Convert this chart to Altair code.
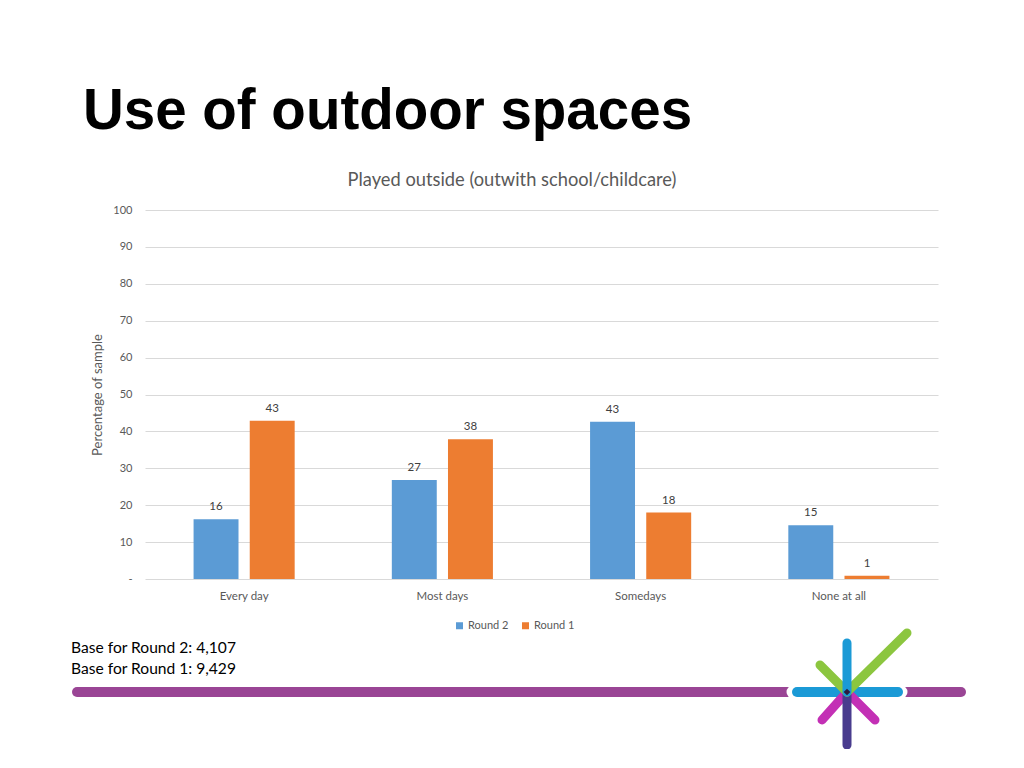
import altair as alt
import pandas as pd

# ---- data ----
categories = ["Every day", "Most days", "Somedays", "None at all"]
series = ["Round 2", "Round 1"]
round2 = [16.2, 26.8, 42.6, 14.6]
round1 = [42.9, 37.9, 18.0, 0.9]
y_ticks = [0, 10, 20, 30, 40, 50, 60, 70, 80, 90, 100]
slide_title = "Use of outdoor spaces"
chart_title = "Played outside (outwith school/childcare)"
y_title = "Percentage of sample"
footer_lines = ["Base for Round 2: 4,107", "Base for Round 1: 9,429"]

rows = []
for c, a, b in zip(categories, round2, round1):
    rows.append({"category": c, "series": series[0], "value": a})
    rows.append({"category": c, "series": series[1], "value": b})
df = pd.DataFrame(rows)

FONT = "Lato"
GRAY = "#595959"
W, H = 793, 369

x_enc = alt.X(
    "category:N", sort=categories, title=None,
    scale=alt.Scale(paddingInner=0.49, paddingOuter=0.245),
    axis=alt.Axis(labelFont=FONT, labelFontSize=11.5, labelColor=GRAY,
                  labelPadding=11, ticks=False, domain=False, labelAngle=0, grid=False),
)
xoff_enc = alt.XOffset("series:N", sort=series,
                       scale=alt.Scale(paddingInner=0.2, paddingOuter=0))
y_enc = alt.Y(
    "value:Q", scale=alt.Scale(domain=[0, 100]),
    axis=alt.Axis(values=y_ticks, labelExpr="datum.value === 0 ? '-' : datum.label",
                  labelOverlap=False,
                  grid=True, gridColor="#d9d9d9", gridWidth=1, domain=False, ticks=False,
                  labelPadding=13, labelFont=FONT, labelFontSize=11, labelColor=GRAY,
                  title=y_title, titleFont=FONT, titleFontSize=13, titleFontWeight="normal",
                  titleColor=GRAY, titlePadding=8),
)
color_enc = alt.Color(
    "series:N", sort=series,
    scale=alt.Scale(domain=series, range=["#5B9BD5", "#ED7D31"]),
    legend=alt.Legend(orient="none", legendX=309, legendY=410, direction="horizontal",
                      title=None, symbolType="square", symbolSize=49, symbolStrokeWidth=0,
                      labelFont=FONT, labelFontSize=11, labelColor=GRAY,
                      labelOffset=3, columnPadding=11),
)

base = alt.Chart(df)
bars = base.mark_bar().encode(x=x_enc, xOffset=xoff_enc, y=y_enc, color=color_enc)
labels = base.mark_text(baseline="bottom", dy=-7, font=FONT, fontSize=11.5, color="#404040").encode(
    x=x_enc, xOffset=xoff_enc, y=y_enc, text=alt.Text("value:Q", format=".0f"))

one = alt.Data(values=[{}])

def rule(x1, y1, x2, y2, color, w):
    return alt.Chart(one).mark_rule(color=color, strokeWidth=w, strokeCap="round").encode(
        x=alt.value(x1), y=alt.value(y1), x2=alt.value(x2), y2=alt.value(y2))

def text(t, x, y, **kw):
    return alt.Chart(one).mark_text(text=t, **kw).encode(x=alt.value(x), y=alt.value(y))

title_t = text(slide_title, -62, -81, align="left", baseline="alphabetic",
               font="Liberation Sans", fontWeight="bold", fontSize=56.5, color="#000000")
sub_t = text(chart_title, 367, -29, align="center", baseline="middle",
             font=FONT, fontSize=18.3, color=GRAY)
foot = [text(t, -74, 438 + i * 21, align="left", baseline="middle", font=FONT,
             fontSize=15.6, color="#000000") for i, t in enumerate(footer_lines)]

deco = [
    rule(-68, 482, 816, 482, "#9A4595", 10),
    rule(648, 482, 756, 482, "#ffffff", 13),
    rule(652, 482, 753, 482, "#1B9AD6", 10),
    rule(702, 482, 677, 510, "#C330B5", 9),
    rule(702, 482, 730, 510, "#C330B5", 9),
    rule(702, 482, 702, 535, "#493C8E", 9),
    rule(675, 455, 702, 482, "#8CC63F", 9),
    rule(702, 482, 762, 423, "#8CC63F", 9),
    rule(702, 433, 702, 482, "#1B9AD6", 9),
]
dot = alt.Chart(one).mark_point(shape="diamond", filled=True, size=45, color="#2B1B3F", opacity=1).encode(
    x=alt.value(702), y=alt.value(482))

chart = alt.layer(bars, labels, title_t, sub_t, *foot, *deco, dot).properties(
    width=W, height=H,
    autosize=alt.AutoSizeParams(type="none"),
    padding={"left": 137, "top": 202, "right": 70, "bottom": 170},
).configure_view(stroke=None)

chart.save("out.html", embed_options={"renderer": "svg", "actions": False})
